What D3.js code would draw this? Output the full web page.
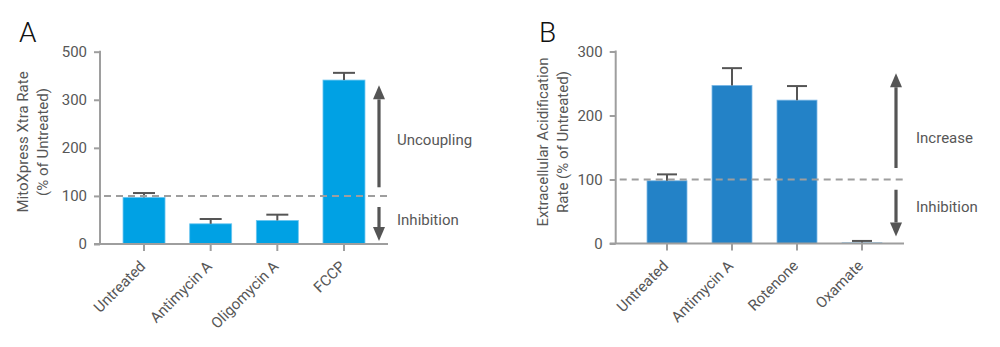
<!DOCTYPE html>
<html>
<head>
<meta charset="utf-8">
<script src="https://cdn.jsdelivr.net/npm/d3@7"></script>
<style>
	body { margin: 0; background: #fff; }
	text { font-family: Roboto, "Noto Sans", sans-serif; }
</style>
</head>
<body>
<svg id="chart" width="1000" height="347"></svg>
<script>
// PANEL A DATA
const catsA = ["Untreated", "Antimycin A", "Oligomycin A", "FCCP"];
const valuesA = [97, 42, 49, 341];
const errorsA = [9, 10, 12, 15];
const ticksA = [0, 100, 200, 300, 400];
const tickLabelsA = ["0", "100", "200", "300", "500"]; // the original axis reads 500 at the top tick
const arrowsA = { up: [118, 330], down: [77, 6] };
const notesA = [{ text: "Uncoupling", v: 216 }, { text: "Inhibition", v: 50 }];

// PANEL B DATA
const catsB = ["Untreated", "Antimycin A", "Rotenone", "Oxamate"];
const valuesB = [98, 247, 224, 1];
const errorsB = [10, 27, 22, 3];
const ticksB = [0, 100, 200, 300];
const tickLabelsB = ["0", "100", "200", "300"];
const arrowsB = { up: [118, 266], down: [84, 11] };
const notesB = [{ text: "Increase", v: 165 }, { text: "Inhibition", v: 57 }];

const svg = d3.select("#chart");
const textColor = "#575757";
const axisColor = "#9e9e9e";
const arrowColor = "#555";

function drawPanel(cfg) {
	const g = svg.append("g");

	// SCALES
	const y = d3.scaleLinear().domain([0, cfg.yMax]).range([cfg.y0, cfg.y1]);
	const x = d3.scaleBand()
		.domain(cfg.cats)
		.range(cfg.band)
		.paddingInner(cfg.pad)
		.paddingOuter(cfg.pad / 2);

	// PANEL LETTER
	g.append("text")
		.attr("x", cfg.letterX)
		.attr("y", 42)
		.attr("font-size", 28)
		.attr("font-weight", 300)
		.attr("fill", "#111")
		.text(cfg.letter);

	// Y-AXIS
	const yAxis = g.append("g")
		.attr("transform", "translate(" + cfg.axisX + ",0)")
		.call(d3.axisLeft(y).tickValues(cfg.ticks).tickSize(6).tickPadding(7)
			.tickFormat((d, i) => cfg.tickLabels[i]));
	yAxis.select(".domain").remove();
	yAxis.append("line")
		.attr("y1", y(0)).attr("y2", y(cfg.yMax) - 1)
		.attr("stroke", axisColor).attr("stroke-width", 2);
	yAxis.selectAll(".tick line").attr("stroke", axisColor).attr("stroke-width", 2);
	yAxis.selectAll(".tick text")
		.attr("fill", textColor)
		.attr("font-size", 15)
		.attr("font-family", "Roboto, sans-serif");

	// Y TITLE
	cfg.title.forEach(function (line, i) {
		g.append("text")
			.attr("transform", "translate(" + cfg.titleX[i] + ",142) rotate(-90)")
			.attr("text-anchor", "middle")
			.attr("dy", "0.35em")
			.attr("font-size", 15)
			.attr("fill", textColor)
			.text(line);
	});

	// BARS
	g.selectAll(".bar")
		.data(cfg.values)
		.join("rect")
		.attr("x", (d, i) => x(cfg.cats[i]))
		.attr("y", d => y(d))
		.attr("width", x.bandwidth())
		.attr("height", d => y(0) - y(d))
		.attr("fill", cfg.color)
		.attr("stroke", cfg.edge)
		.attr("stroke-width", 0.8);

	// ERROR BARS
	cfg.values.forEach(function (v, i) {
		const cx = x(cfg.cats[i]) + x.bandwidth() / 2;
		const top = y(v + cfg.errors[i]);
		g.append("line")
			.attr("x1", cx).attr("x2", cx)
			.attr("y1", y(v)).attr("y2", top)
			.attr("stroke", arrowColor).attr("stroke-width", 2);
		g.append("line")
			.attr("x1", cx - cfg.cap / 2).attr("x2", cx + cfg.cap / 2)
			.attr("y1", top).attr("y2", top)
			.attr("stroke", arrowColor).attr("stroke-width", 2);
	});

	// X-AXIS
	const xAxis = g.append("g")
		.attr("transform", "translate(0," + y(0) + ")")
		.call(d3.axisBottom(x).tickSize(7).tickSizeOuter(0));
	xAxis.select(".domain").remove();
	xAxis.append("line")
		.attr("x1", cfg.axisX - 6).attr("x2", cfg.xEnd)
		.attr("stroke", axisColor).attr("stroke-width", 2);
	xAxis.selectAll(".tick line").attr("stroke", axisColor).attr("stroke-width", 2);
	xAxis.selectAll(".tick text")
		.attr("fill", textColor)
		.attr("font-size", 15)
		.attr("font-family", "Roboto, sans-serif")
		.attr("text-anchor", "end")
		.attr("x", 0)
		.attr("y", 0)
		.attr("dy", "0.35em")
		.attr("transform", "translate(-1.5,19.5) rotate(-45)");

	// DASHED 100% LINE
	g.append("line")
		.attr("x1", cfg.axisX + 4).attr("x2", cfg.xEnd)
		.attr("y1", y(100)).attr("y2", y(100))
		.attr("stroke", axisColor)
		.attr("stroke-width", 2)
		.attr("stroke-dasharray", "7,5");

	// ARROWS
	function arrow(from, to) {
		const y1 = y(from), y2 = y(to);
		const dir = y2 < y1 ? 1 : -1;
		const headBase = y2 + dir * 14;
		g.append("line")
			.attr("x1", cfg.arrowX).attr("x2", cfg.arrowX)
			.attr("y1", y1).attr("y2", headBase)
			.attr("stroke", arrowColor).attr("stroke-width", 3.2);
		g.append("path")
			.attr("d", "M" + (cfg.arrowX - 6) + "," + headBase +
				"L" + (cfg.arrowX + 6) + "," + headBase +
				"L" + cfg.arrowX + "," + y2 + "Z")
			.attr("fill", arrowColor);
	}
	arrow(cfg.arrows.up[0], cfg.arrows.up[1]);
	arrow(cfg.arrows.down[0], cfg.arrows.down[1]);

	// ARROW LABELS
	g.selectAll(".note")
		.data(cfg.notes)
		.join("text")
		.attr("x", cfg.noteX)
		.attr("y", d => y(d.v))
		.attr("dy", "0.35em")
		.attr("font-size", 15)
		.attr("fill", textColor)
		.text(d => d.text);
}

drawPanel({
	letter: "A", letterX: 19,
	cats: catsA, values: valuesA, errors: errorsA,
	ticks: ticksA, tickLabels: tickLabelsA, yMax: 400,
	y0: 244, y1: 51.7, axisX: 100, xEnd: 388,
	band: [110.7, 377.3], pad: 0.37, cap: 22,
	color: "#00a1e4", edge: "#6cc6f0",
	title: ["MitoXpress Xtra Rate", "(% of Untreated)"], titleX: [23, 43],
	arrows: arrowsA, arrowX: 379, notes: notesA, noteX: 397
});

drawPanel({
	letter: "B", letterX: 539,
	cats: catsB, values: valuesB, errors: errorsB,
	ticks: ticksB, tickLabels: tickLabelsB, yMax: 300,
	y0: 243.5, y1: 51.5, axisX: 615.7, xEnd: 904,
	band: [634.5, 894.5], pad: 0.385, cap: 20,
	color: "#2382c7", edge: "#7ab8e6",
	title: ["Extracellular Acidification", "Rate (% of Untreated)"], titleX: [543, 563],
	arrows: arrowsB, arrowX: 896, notes: notesB, noteX: 916
});
</script>
</body>
</html>
